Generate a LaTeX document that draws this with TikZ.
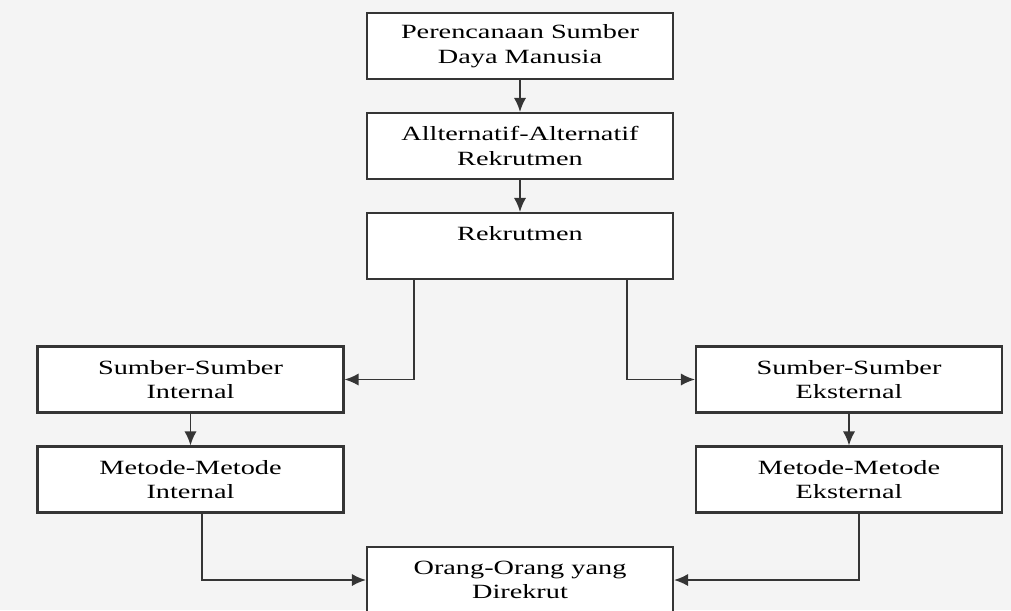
\documentclass[tikz,border=0pt]{standalone}
\usepackage{fontspec}
\setmainfont{Liberation Serif}
\newfontfamily\boxfont[FakeStretch=1.4]{Liberation Serif}
\usetikzlibrary{arrows.meta}
\definecolor{linegray}{HTML}{353535}
\definecolor{bggray}{HTML}{F4F4F4}

\tikzset{
  stepbox/.style={draw=linegray, line width=1.2pt, fill=white, align=center,
    minimum width=6.12cm, minimum height=1.32cm, inner sep=2pt,
    font=\boxfont\fontsize{11.5}{14}\selectfont},
  arr/.style={draw=linegray, line width=1.1pt, -{Latex[length=8pt,width=7pt]}}
}

\begin{document}
\begin{tikzpicture}[x=0.02cm, y=-0.02cm]
\fill[bggray] (0,0) rectangle (1011,610);
\clip (0,0) rectangle (1011,610);

% main column
\node[stepbox] (plan) at (520,46) {Perencanaan Sumber\\Daya Manusia};
\node[stepbox] (alt) at (520,146) {Allternatif-Alternatif\\Rekrutmen};
\node[stepbox] (rek) at (520,246) {Rekrutmen\\~};

% left and right branches
\node[stepbox] (sint) at (190.5,379.5) {Sumber-Sumber\\Internal};
\node[stepbox] (mint) at (190.5,479.5) {Metode-Metode\\Internal};
\node[stepbox] (seks) at (849,379.5) {Sumber-Sumber\\Eksternal};
\node[stepbox] (meks) at (849,479.5) {Metode-Metode\\Eksternal};

\node[stepbox] (org) at (520,580) {Orang-Orang yang\\Direkrut};

\draw[arr] (plan) -- (alt);
\draw[arr] (alt) -- (rek);
\draw[arr] ([xshift=-2.12cm]rek.south) |- (sint.east);
\draw[arr] ([xshift=2.14cm]rek.south) |- (seks.west);
\draw[arr] (sint) -- (mint);
\draw[arr] (seks) -- (meks);
\draw[arr] ([xshift=0.23cm]mint.south) |- (org.west);
\draw[arr] ([xshift=0.2cm]meks.south) |- (org.east);
\end{tikzpicture}
\end{document}
